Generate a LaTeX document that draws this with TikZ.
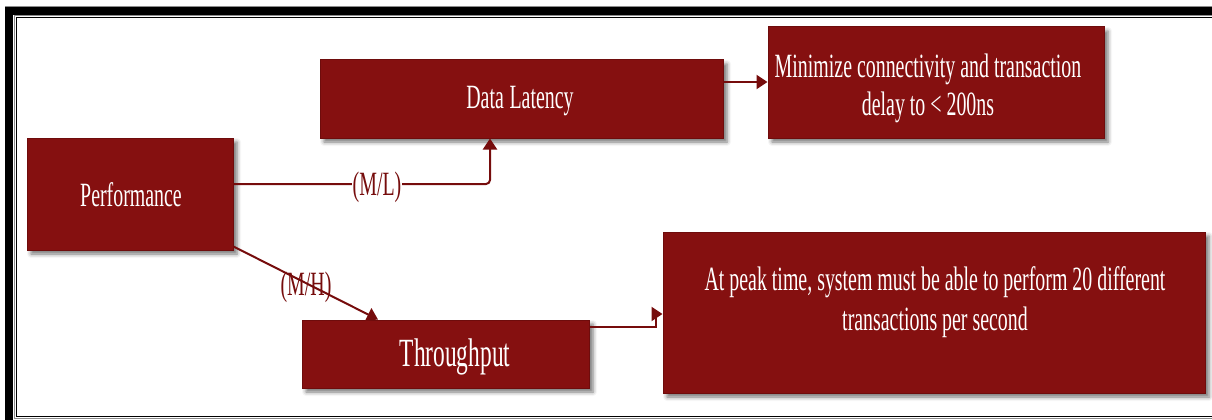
\documentclass[tikz,border=0pt]{standalone}
\usepackage{fontspec}
\setmainfont{Liberation Serif}[FakeStretch=0.585]
\usetikzlibrary{arrows.meta,shadows.blur,calc}
\definecolor{boxred}{RGB}{133,16,16}
\definecolor{boxedge}{RGB}{110,12,12}
\definecolor{linered}{RGB}{118,12,12}
\tikzset{
  box/.style={rectangle, fill=boxred, draw=boxedge, line width=1pt, inner sep=0pt,
    blur shadow={shadow xshift=4pt, shadow yshift=-4pt, shadow blur radius=4pt, shadow opacity=55}},
  boxtext/.style={text=white, align=center, inner sep=0pt, font=\fontsize{34}{38}\selectfont},
  conn/.style={draw=linered, line width=2pt, -{Triangle[length=11pt,width=14pt]}},
  lbl/.style={text=linered, inner sep=1pt, font=\fontsize{34}{36}\selectfont}
}
\begin{document}
\begin{tikzpicture}[x=1pt,y=-1pt]
\useasboundingbox (0,0) rectangle (1212,420);
% frame
\draw[black!45, line width=1pt] (5,6.5) -- (1212,6.5);
\fill[black] (5,7.5) rectangle (1212,15);
\fill[black] (5,7.5) rectangle (13.3,420);
\draw[black!45, line width=1pt] (1212,15.5) -- (14.5,15.5) -- (14.5,418) -- (1212,418);
\draw[black, line width=1.3pt] (1212,17.8) -- (16.6,17.8) -- (16.6,416.3) -- (1212,416.3);
% boxes
\node[box, minimum width=206pt, minimum height=112pt] (perf) at (130,194) {};
\node[box, minimum width=403pt, minimum height=78pt] (lat) at (521.5,99) {};
\node[box, minimum width=336pt, minimum height=111pt] (mini) at (936,82.5) {};
\node[box, minimum width=287pt, minimum height=68pt] (thr) at (445.5,354) {};
\node[box, minimum width=542pt, minimum height=161pt] (peak) at (934,312.5) {};
% texts
\node[boxtext] (perft) at (131,195) {Performance};
\node[boxtext] (latt) at (520,101) {Data\,Latency};
\node[boxtext] (minit) at (928,88) {Minimize connectivity and transaction\\delay to < 200ns};
\node[boxtext, font=\fontsize{40}{40}\selectfont] (thrt) at (455,357) {Throughput};
\node[boxtext, font=\fontsize{34}{40}\selectfont] (peakt) at (935,302) {At peak time, system must be able to perform 20 different\\transactions per second};
% connectors
\draw[conn, rounded corners=4pt] (perf.east |- 0,184) -| (lat.south -| 490,0);
\node[lbl, fill=white] (ml) at (377,187) {(M/L)};
\draw[conn] ([yshift=4pt]perf.south east) -- (thr.north -| 378,0);
\node[lbl] (mh) at (306,287) {(M/H)};
\draw[conn] (lat.east |- 0,82) -- (mini.west |- 0,82);
\draw[conn] (thr.east |- 0,326.5) -| (656,314) -- (peak.west |- 0,314);
\end{tikzpicture}
\end{document}
